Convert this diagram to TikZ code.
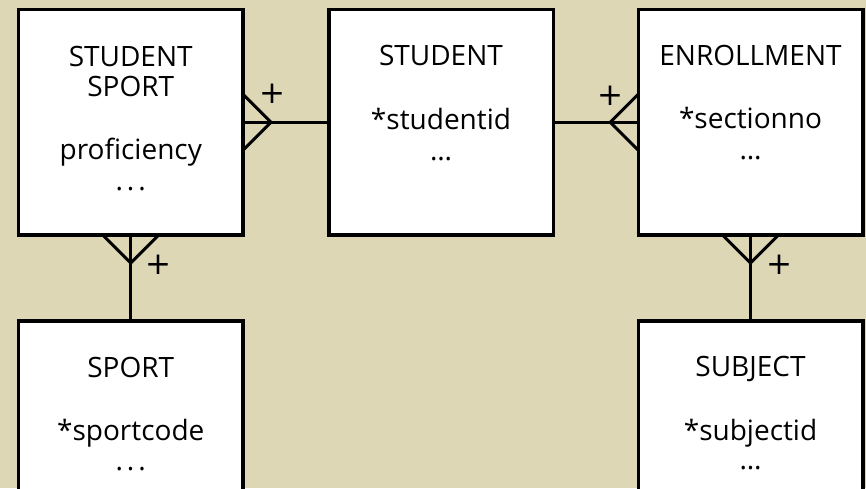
\documentclass[tikz,border=0pt]{standalone}
\usepackage{fontspec}
\setmainfont{Open Sans}
\newfontfamily\plusfont{DejaVu Sans}
\definecolor{parch}{RGB}{222,215,182}
\begin{document}
\begin{tikzpicture}[x=1pt,y=-1pt,
  entity/.style={rectangle,draw=black,fill=white,line width=3.5pt,minimum width=224.5pt,minimum height=225.5pt,inner sep=0pt,outer sep=0pt},
  lbl/.style={anchor=base,inner sep=0pt,font=\fontsize{28}{31}\selectfont},
  rel/.style={line width=3pt,line join=miter},
  plusmark/.style={inner sep=0pt,font=\plusfont\fontsize{31}{31}\selectfont}]
\clip (0,0) rectangle (866,488);
\fill[parch] (0,0) rectangle (866,488);
% entities
\node[entity] (ss) at (130.75,122.25) {};
\node[entity] (st) at (441,122.25) {};
\node[entity] (en) at (750.5,122.25) {};
\node[entity] (sp) at (130.75,433.75) {};
\node[entity] (sb) at (750.5,433.75) {};
% texts
\node[lbl] (ss1) at (130.75,66) {STUDENT};
\node[lbl] (ss2) at (130.75,96) {SPORT};
\node[lbl] (ss3) at (130.75,159) {proficiency};
\node[lbl] (ss4) at (130.75,190) {.\hspace{4pt}.\hspace{4pt}.};
\node[lbl] (st1) at (441,65) {STUDENT};
\node[lbl] (st2) at (441,129) {*studentid};
\node[lbl] (st3) at (441,160) {…};
\node[lbl] (en1) at (750.5,65) {ENROLLMENT};
\node[lbl] (en2) at (750.5,128) {*sectionno};
\node[lbl] (en3) at (750.5,159) {…};
\node[lbl] (sp1) at (130.75,377) {SPORT};
\node[lbl] (sp2) at (130.75,440) {*sportcode};
\node[lbl] (sp3) at (130.75,470) {.\hspace{4pt}.\hspace{4pt}.};
\node[lbl] (sb1) at (750.5,376) {SUBJECT};
\node[lbl] (sb2) at (750.5,440) {*subjectid};
\node[lbl] (sb3) at (750.5,469) {…};
% relationships
\draw[rel] (ss.east) -- (st.west);
\draw[rel] ([yshift=28pt]ss.east) -- ([xshift=28pt]ss.east) -- ([yshift=-28pt]ss.east);
\node[plusmark] (p1) at (272,94) {+};
\draw[rel] (st.east) -- (en.west);
\draw[rel] ([yshift=28pt]en.west) -- ([xshift=-28pt]en.west) -- ([yshift=-28pt]en.west);
\node[plusmark] (p2) at (610,96) {+};
\draw[rel] (ss.south) -- (sp.north);
\draw[rel] ([xshift=-28pt]ss.south) -- ([yshift=-28pt]ss.south) -- ([xshift=28pt]ss.south);
\node[plusmark] (p3) at (158,265) {+};
\draw[rel] (en.south) -- (sb.north);
\draw[rel] ([xshift=-28pt]en.south) -- ([yshift=-28pt]en.south) -- ([xshift=28pt]en.south);
\node[plusmark] (p4) at (779,265) {+};
\end{tikzpicture}
\end{document}
